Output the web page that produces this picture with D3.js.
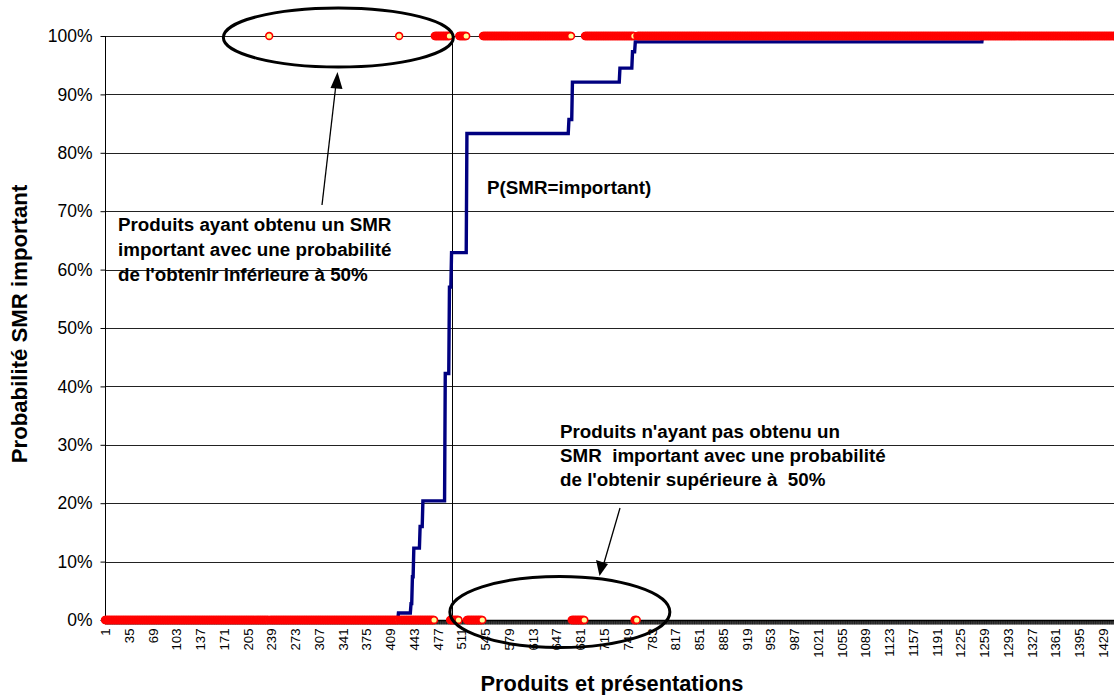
<!DOCTYPE html>
<html>
<head>
<meta charset="utf-8">
<script src="https://cdn.jsdelivr.net/npm/d3@7"></script>
<style>
  body { margin: 0; background: #fff; }
  svg { display: block; }
  text { font-family: "Liberation Sans", Arial, sans-serif; fill: #000; }
</style>
</head>
<body>
<svg id="chart" width="1114" height="695"></svg>
<script>
// Products ranked by predicted probability of an "important" SMR
const productCount = 1450;

// Rank ranges of products that actually obtained an important SMR (1); all others are 0
const importantRuns = [[236, 236], [422, 422], [473, 494], [508, 518], [542, 668], [688, 758], [763, 1450]];

// P(SMR=important): [first rank of the level, probability]
const probSteps = [
  [1, 0], [421, 0.012], [439, 0.028], [441, 0.074], [443, 0.123], [452, 0.16],
  [456, 0.204], [488, 0.422], [494, 0.57], [497, 0.629], [519, 0.833],
  [665, 0.857], [670, 0.921], [738, 0.945], [756, 0.973], [760, 0.99], [1257, 1]
];

// Rank where the predicted probability passes 50%
const thresholdRank = 498;

const yTicks = [0, 0.1, 0.2, 0.3, 0.4, 0.5, 0.6, 0.7, 0.8, 0.9, 1];
const xTickLabels = [1, 35, 69, 103, 137, 171, 205, 239, 273, 307, 341, 375, 409, 443, 477, 511, 545,
  579, 613, 647, 681, 715, 749, 783, 817, 851, 885, 919, 953, 987, 1021, 1055, 1089, 1123, 1157,
  1191, 1225, 1259, 1293, 1327, 1361, 1395, 1429];

const yTitle = "Probabilité SMR important";
const xTitle = "Produits et présentations";
const lineLabel = "P(SMR=important)";
const noteLow = ["Produits ayant obtenu un SMR", "important avec une probabilité", "de l'obtenir inférieure à 50%"];
const noteHigh = ["Produits n'ayant pas obtenu un", "SMR  important avec une probabilité", "de l'obtenir supérieure à  50%"];

// ---- derived per-product series
const ranks = d3.range(1, productCount + 1);
const outcome = ranks.map(r => importantRuns.some(([a, b]) => r >= a && r <= b) ? 1 : 0);
const stepStart = probSteps.map(d => d[0]);
const prob = ranks.map(r => probSteps[d3.bisectRight(stepStart, r) - 1][1]);

// ---- layout
const svg = d3.select("#chart");
const plotLeft = 105, plotTop = 36, plotBottom = 620, plotRight = 1114;
const step = 0.6987;
const x = d3.scalePoint().domain(ranks).range([plotLeft, plotLeft + (productCount - 1) * step]);
const y = d3.scaleLinear().domain([0, 1]).range([plotBottom, plotTop]);

// gridlines
svg.append("g").selectAll("line").data(yTicks.slice(1)).join("line")
  .attr("x1", plotLeft).attr("x2", plotRight)
  .attr("y1", d => Math.round(y(d)) + 0.5).attr("y2", d => Math.round(y(d)) + 0.5)
  .attr("stroke", "#222").attr("stroke-width", 1);

// y axis
const yAxis = svg.append("g").attr("transform", `translate(${plotLeft + 0.5},0)`)
  .call(d3.axisLeft(y).tickValues(yTicks).tickFormat(d3.format(".0%")).tickSize(5).tickPadding(8));
yAxis.select(".domain").attr("d", `M0,${plotTop}V${plotBottom}`).attr("stroke", "#000");
yAxis.selectAll(".tick line").attr("stroke", "#000");
yAxis.selectAll("text").attr("font-size", 17.5).attr("font-family", "Liberation Sans, Arial, sans-serif");

// x axis: a tick for every product, labels every 34 ranks
const labelSet = new Set(xTickLabels);
const xAxis = svg.append("g").attr("transform", `translate(0,${plotBottom + 0.5})`)
  .call(d3.axisBottom(x).tickValues(ranks).tickSize(4).tickFormat(d => labelSet.has(d) ? d : ""));
xAxis.select(".domain").attr("d", `M${plotLeft},0H${plotRight}`).attr("stroke", "#000").attr("stroke-width", 1.5);
xAxis.selectAll(".tick line").attr("stroke", "#000").attr("stroke-width", 0.8);
xAxis.selectAll(".tick text")
  .attr("font-size", 13.2).attr("font-family", "Liberation Sans, Arial, sans-serif")
  .attr("text-anchor", "end").attr("transform", "rotate(-90)")
  .attr("x", -8).attr("y", 0).attr("dy", "0.35em");

// threshold line
svg.append("line")
  .attr("x1", Math.round(x(thresholdRank)) + 0.5).attr("x2", Math.round(x(thresholdRank)) + 0.5)
  .attr("y1", plotTop).attr("y2", plotBottom)
  .attr("stroke", "#000").attr("stroke-width", 1);

// probability curve
svg.append("path")
  .datum(ranks)
  .attr("d", d3.line().x(r => x(r)).y((r, i) => y(prob[i])))
  .attr("fill", "none").attr("stroke", "#000080").attr("stroke-width", 3.4);

// observed outcome markers
svg.append("g").selectAll("circle").data(ranks).join("circle")
  .attr("cx", r => x(r)).attr("cy", (r, i) => y(outcome[i]))
  .attr("r", 3.4).attr("fill", "#FFFF99").attr("stroke", "#FF0000").attr("stroke-width", 1.6);

// ellipses around the misclassified groups
svg.append("ellipse")
  .attr("cx", x(335)).attr("cy", y(1) + 1.5).attr("rx", 115).attr("ry", 29.5)
  .attr("fill", "none").attr("stroke", "#000").attr("stroke-width", 3);
svg.append("ellipse")
  .attr("cx", x(652)).attr("cy", y(0) - 8).attr("rx", 110).attr("ry", 35.5)
  .attr("fill", "none").attr("stroke", "#000").attr("stroke-width", 3);

// arrows
svg.append("path").attr("d", "M322,205L336,84").attr("stroke", "#000").attr("stroke-width", 1.3);
svg.append("path").attr("d", "M337.5,72L330.5,88L342.5,89Z").attr("fill", "#000");
svg.append("path").attr("d", "M620,508L604,563").attr("stroke", "#000").attr("stroke-width", 1.3);
svg.append("path").attr("d", "M599.5,576L596,560L608,564Z").attr("fill", "#000");

const bold = (sel) => sel.attr("font-weight", "bold");

svg.append("text").attr("x", 487).attr("y", 194).attr("font-size", 18.8).call(bold).text(lineLabel);

svg.append("g").selectAll("text").data(noteLow).join("text")
  .attr("x", 118).attr("y", (d, i) => 231 + i * 25).attr("font-size", 18.8).call(bold).text(d => d);
svg.append("g").selectAll("text").data(noteHigh).join("text")
  .attr("x", 560).attr("y", (d, i) => 438 + i * 24).attr("font-size", 18.8)
  .style("white-space", "pre").call(bold).text(d => d);

svg.append("text").attr("x", 612).attr("y", 691).attr("text-anchor", "middle")
  .attr("font-size", 21.8).call(bold).text(xTitle);
svg.append("text").attr("transform", "translate(27,324) rotate(-90)").attr("text-anchor", "middle")
  .attr("font-size", 22.2).call(bold).text(yTitle);
</script>
</body>
</html>
